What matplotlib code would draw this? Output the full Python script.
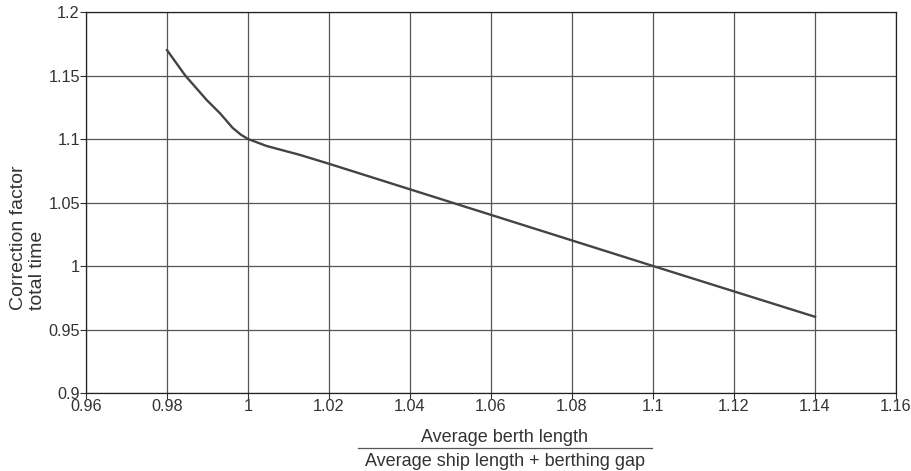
import matplotlib
matplotlib.use('Agg')
import matplotlib.pyplot as plt
from matplotlib.lines import Line2D

plt.rcParams['font.family'] = ['Liberation Sans', 'DejaVu Sans']

# curve
ratio = [0.98, 0.9845, 0.9898, 0.9931, 0.9962, 0.9982, 1.0, 1.0046, 1.0128, 1.0195, 1.1, 1.14]
factor = [1.17, 1.150, 1.1307, 1.1202, 1.1088, 1.1035, 1.1, 1.0945, 1.0875, 1.081, 1.0, 0.96]

xticks = [0.96, 0.98, 1.0, 1.02, 1.04, 1.06, 1.08, 1.1, 1.12, 1.14, 1.16]
xticklabels = ['0.96', '0.98', '1', '1.02', '1.04', '1.06', '1.08', '1.1', '1.12', '1.14', '1.16']
yticks = [0.9, 0.95, 1.0, 1.05, 1.1, 1.15, 1.2]
yticklabels = ['0.9', '0.95', '1', '1.05', '1.1', '1.15', '1.2']

fig = plt.figure(figsize=(9.12, 4.71), dpi=100)
ax = fig.add_axes([0.0943, 0.1656, 0.8882, 0.8089])

ax.plot(ratio, factor, color='#444444', lw=1.7, solid_joinstyle='round')

ax.set_xlim(0.96, 1.16)
ax.set_ylim(0.9, 1.2)
ax.set_xticks(xticks)
ax.set_xticklabels(xticklabels)
ax.set_yticks(yticks)
ax.set_yticklabels(yticklabels)
ax.tick_params(labelsize=11.7, colors='#333333', length=4, width=0.8, pad=0.5)
ax.grid(True, color='#555555', lw=0.9)
for s in ax.spines.values():
    s.set_color('#222222')
    s.set_linewidth(0.9)

# y label: two lines, starting from the same point (left aligned when rotated)
fig.text(28 / 912, 1 - 310 / 471, 'Correction factor\ntotal time', rotation=90,
         ha='center', va='bottom', multialignment='left', linespacing=1.15,
         fontsize=14, color='#333333')

# fraction-style x label
fig.text(505 / 912, 1 - 437 / 471, 'Average berth length', ha='center', va='center',
         fontsize=13, color='#333333')
fig.add_artist(Line2D([358 / 912, 652 / 912], [1 - 448 / 471, 1 - 448 / 471],
                      color='#555555', lw=0.9))
fig.text(505 / 912, 1 - 462 / 471, 'Average ship length + berthing gap', ha='center', va='center',
         fontsize=13, color='#333333')

fig.savefig('out.png', dpi=100)
